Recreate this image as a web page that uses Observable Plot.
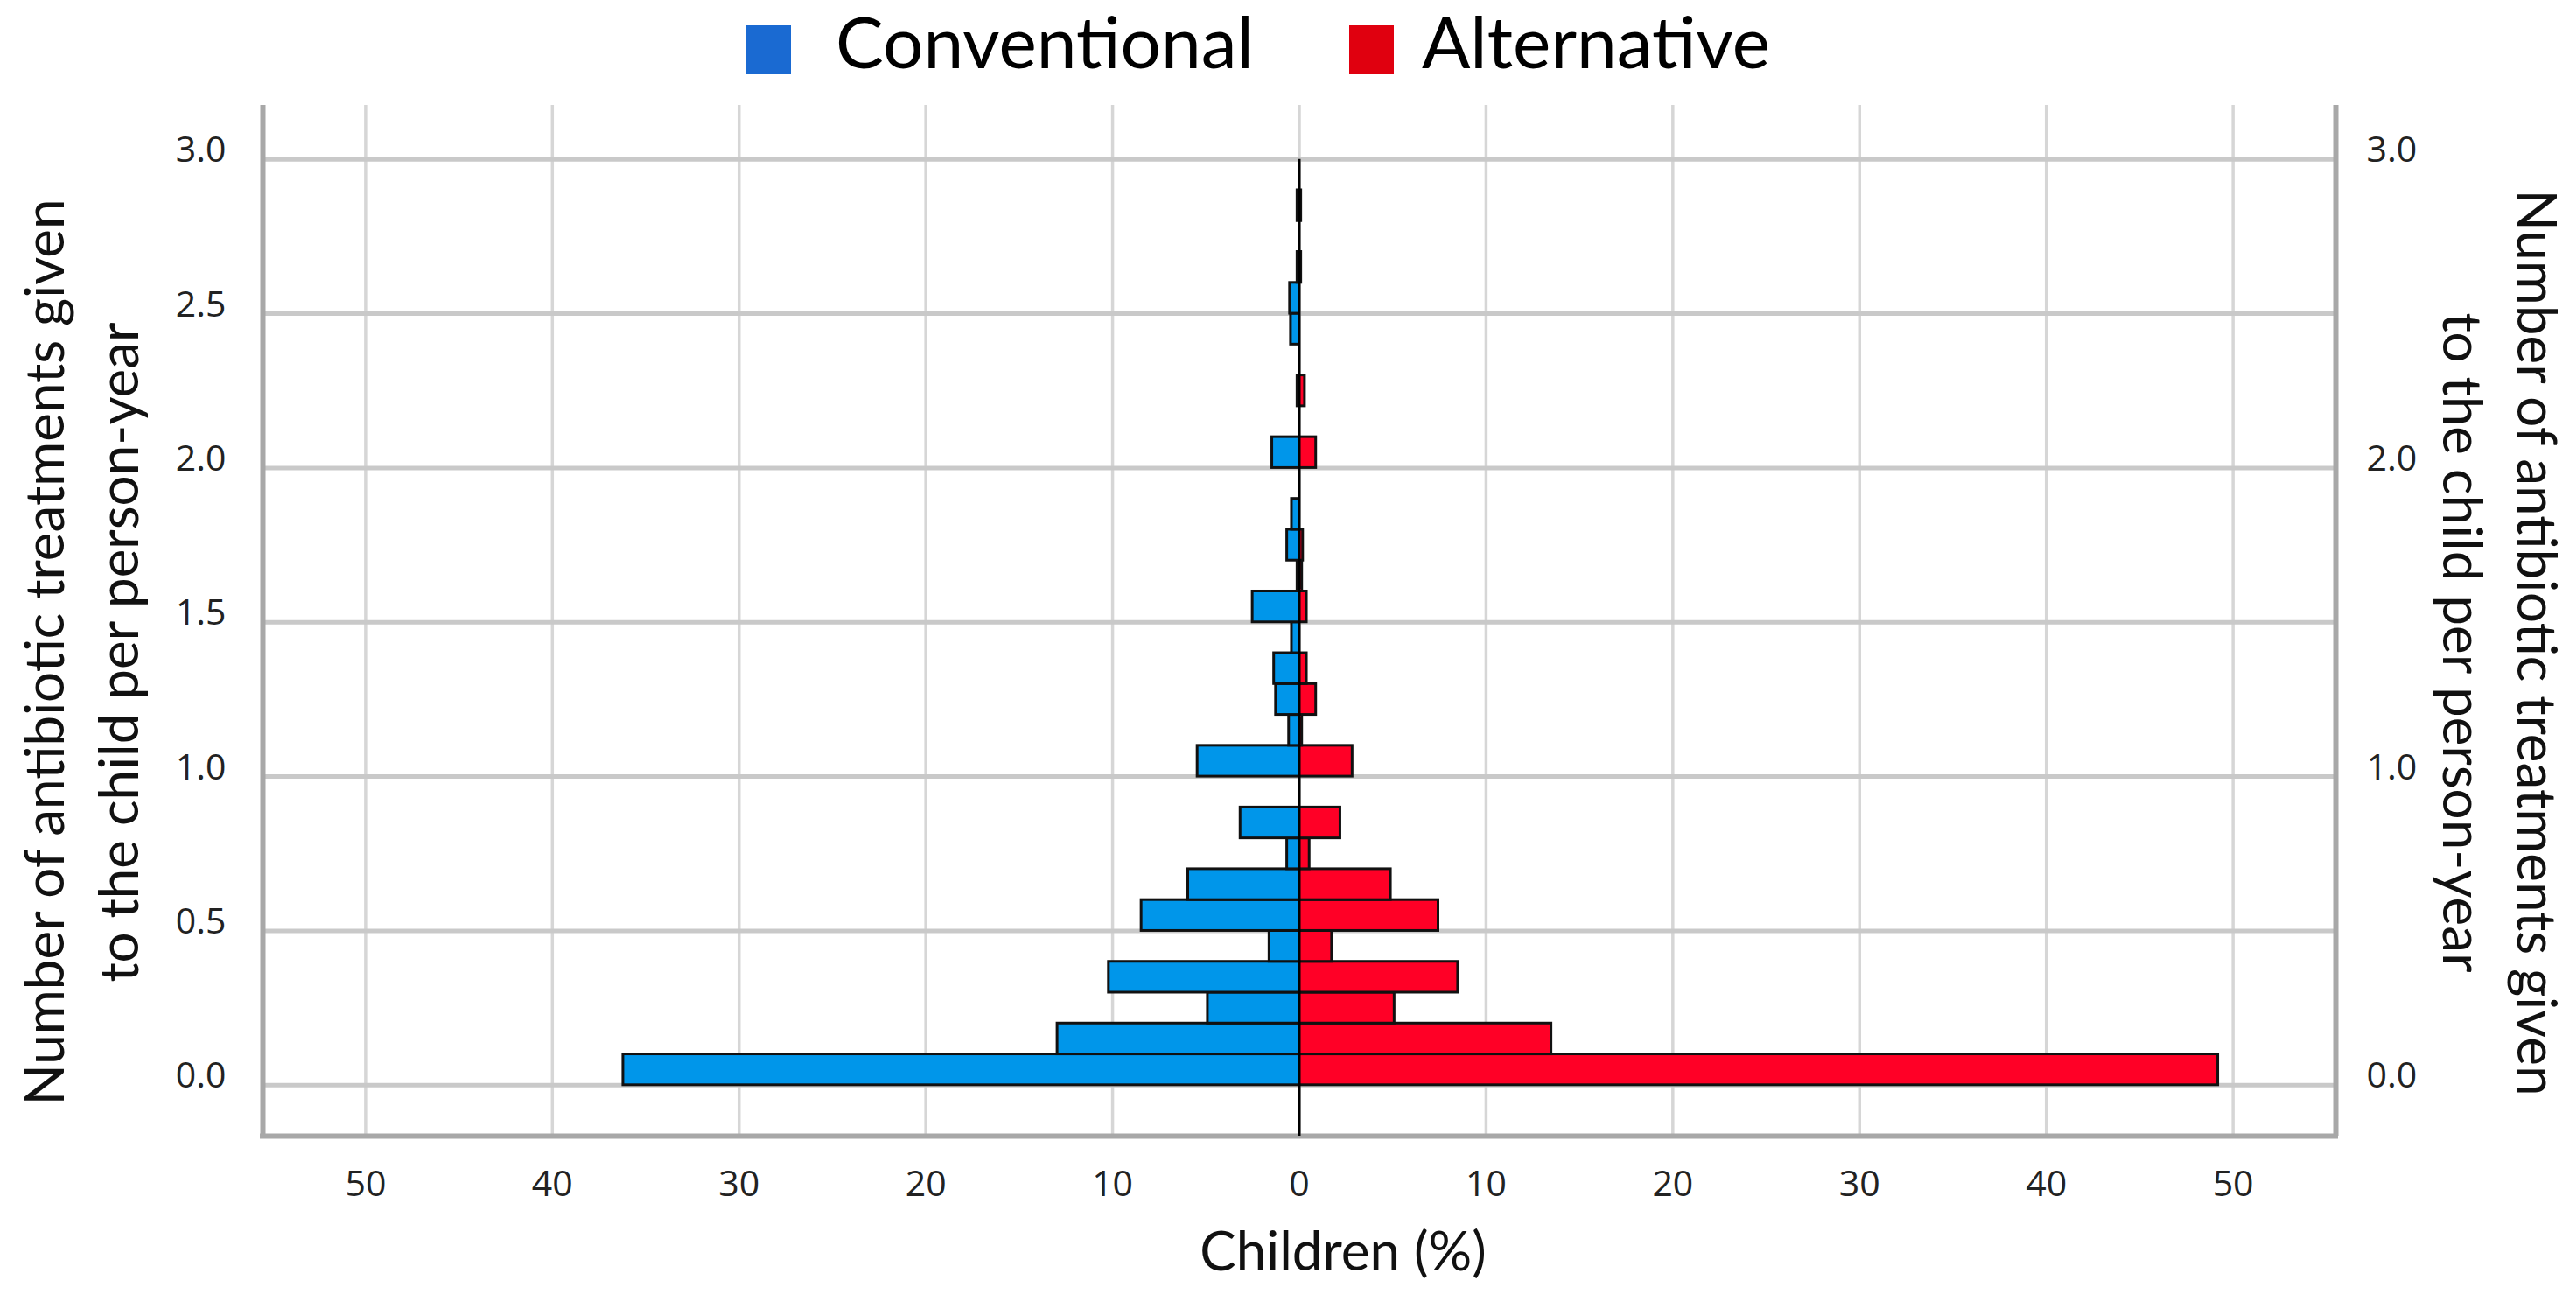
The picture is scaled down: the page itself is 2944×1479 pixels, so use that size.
<!DOCTYPE html>
<html>
<head>
<meta charset="utf-8">
<script src="https://cdn.jsdelivr.net/npm/d3@7"></script>
<script src="https://cdn.jsdelivr.net/npm/@observablehq/plot@0.6"></script>
<style>
html, body { margin: 0; padding: 0; background: #fff; }
#legend { position: relative; width: 2944px; height: 100px; font-family: Lato, sans-serif; }
.sw { position: absolute; top: 29px; width: 51px; height: 56px; }
.lt { position: absolute; top: 5px; font-size: 82px; line-height: 82px; color: #000; white-space: nowrap; }
#chart svg { display: block; }
</style>
</head>
<body>
<div id="legend"></div>
<div id="chart"></div>
<script>
// ---- data ----
const series = ["Conventional", "Alternative"];
const legendColors = ["#1a6ad2", "#e0000f"];
const barColors = ["#0096ea", "#ff0026"];
const binWidth = 0.1;
const bins = [0.0, 0.1, 0.2, 0.3, 0.4, 0.5, 0.6, 0.7, 0.8, 0.9,
              1.0, 1.1, 1.2, 1.3, 1.4, 1.5, 1.6, 1.7, 1.8, 1.9,
              2.0, 2.1, 2.2, 2.3, 2.4, 2.5, 2.6, 2.7, 2.8, 2.9];
const conventional = [36.2, 12.95, 4.9, 10.2, 1.6, 8.45, 5.95, 0.65, 3.15, 0,
                      5.45, 0.55, 1.25, 1.35, 0.4, 2.5, 0.1, 0.65, 0.4, 0,
                      1.45, 0, 0.1, 0, 0.45, 0.5, 0.1, 0, 0.1, 0];
const alternative = [49.2, 13.5, 5.1, 8.5, 1.75, 7.45, 4.9, 0.55, 2.2, 0,
                     2.85, 0.15, 0.9, 0.4, 0, 0.4, 0.15, 0.2, 0, 0,
                     0.9, 0, 0.3, 0, 0, 0, 0.1, 0, 0.1, 0];
const xTicks = [-50, -40, -30, -20, -10, 0, 10, 20, 30, 40, 50];
const yTicksLeft = [0, 0.5, 1.0, 1.5, 2.0, 2.5, 3.0];
const yTicksRight = [0, 1.0, 2.0, 3.0];
const xTitle = "Children (%)";
const yTitle = "Number of antibiotic treatments given\nto the child per person-year";
const xMax = 55.5, yMin = -0.165, yMax = 3.175, zeroTop = 3.0;

// ---- legend ----
const legend = document.getElementById("legend");
const swLeft = [853, 1542], txtLeft = [955, 1625];
series.forEach((s, i) => {
  const sw = document.createElement("div");
  sw.className = "sw"; sw.style.left = swLeft[i] + "px"; sw.style.background = legendColors[i];
  legend.appendChild(sw);
  const t = document.createElement("div");
  t.className = "lt"; t.style.left = txtLeft[i] + "px"; t.textContent = s;
  legend.appendChild(t);
});

// ---- table ----
const rows = [];
bins.forEach((b, i) => {
  if (conventional[i] > 0) rows.push({y1: b, y2: b + binWidth, x1: -conventional[i], x2: 0, s: series[0]});
  if (alternative[i] > 0) rows.push({y1: b, y2: b + binWidth, x1: 0, x2: alternative[i], s: series[1]});
});

const chart = Plot.plot({
  width: 2944,
  height: 1379,
  marginLeft: 300,
  marginRight: 275,
  marginTop: 20,
  marginBottom: 181,
  x: {domain: [-xMax, xMax]},
  y: {domain: [yMin, yMax]},
  color: {domain: series, range: barColors},
  style: {fontFamily: "'Open Sans', sans-serif", background: "white", color: "#222"},
  marks: [
    Plot.gridX({ticks: xTicks, stroke: "#d6d6d6", strokeWidth: 3.5, strokeOpacity: 1}),
    Plot.gridY({ticks: yTicksLeft, stroke: "#c9c9c9", strokeWidth: 5, strokeOpacity: 1}),
    Plot.ruleX([-xMax, xMax], {y1: yMin, y2: yMax, stroke: "#a8a8a8", strokeWidth: 6}),
    Plot.ruleY([yMin], {x1: -xMax - 0.14, x2: xMax + 0.14, stroke: "#a8a8a8", strokeWidth: 6}),
    Plot.rect(rows, {x1: "x1", x2: "x2", y1: "y1", y2: "y2", fill: "s", stroke: "#111", strokeWidth: 3}),
    Plot.ruleX([0], {y1: yMin, y2: zeroTop, stroke: "#000", strokeWidth: 3}),
    Plot.axisY({anchor: "left", ticks: yTicksLeft, tickFormat: d3.format(".1f"), tickSize: 0, tickPadding: 42,
                fontSize: 41, dy: -10, label: null, color: "#222"}),
    Plot.axisY({anchor: "right", ticks: yTicksRight, tickFormat: d3.format(".1f"), tickSize: 0, tickPadding: 35,
                fontSize: 41, dy: -10, label: null, color: "#222"}),
    Plot.axisX({anchor: "bottom", ticks: xTicks, tickFormat: d => Math.abs(d), tickSize: 0, tickPadding: 39,
                fontSize: 41, label: null, color: "#222"}),
    Plot.text([xTitle], {frameAnchor: "bottom", lineAnchor: "middle", dx: 50, dy: 134,
                         fontSize: 62, fontFamily: "Lato", fill: "#111"}),
    Plot.text([yTitle], {frameAnchor: "left", rotate: -90, lineAnchor: "middle", textAnchor: "middle",
                         lineHeight: 1.37, dx: -212, dy: 36, fontSize: 62, fontFamily: "Lato", fill: "#111"}),
    Plot.text([yTitle], {frameAnchor: "right", rotate: 90, lineAnchor: "middle", textAnchor: "middle",
                         lineHeight: 1.37, dx: 192, dy: 25, fontSize: 62, fontFamily: "Lato", fill: "#111"})
  ]
});
document.getElementById("chart").appendChild(chart);
</script>
</body>
</html>
